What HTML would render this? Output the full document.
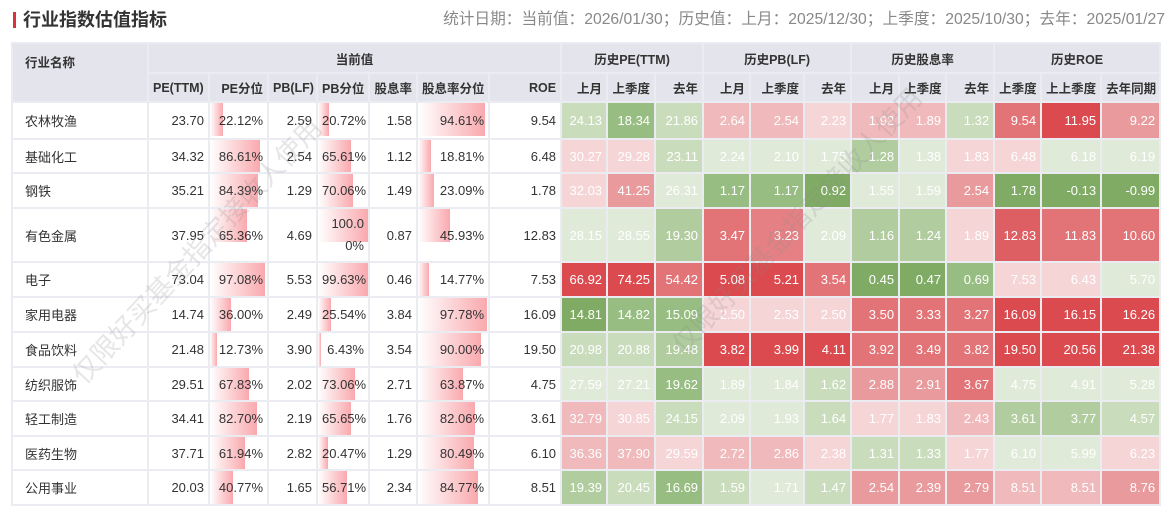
<!DOCTYPE html>
<html><head><meta charset="utf-8"><style>
body{margin:0;width:1169px;height:508px;background:#fff;overflow:hidden;position:relative;font-family:"Liberation Sans","Noto Sans CJK SC",sans-serif;}
.title{position:absolute;left:13px;top:8px;height:24px;font-size:18px;font-weight:bold;color:#333;line-height:24px;}
.title:before{content:"";display:inline-block;width:3px;height:16px;background:#d9333a;vertical-align:-2px;margin-right:7px;}
.date{position:absolute;right:4px;top:10px;font-size:15.7px;color:#888;line-height:20px;white-space:nowrap;}
table{position:absolute;left:11px;top:42px;width:1150px;border-collapse:separate;border-spacing:2px;background:#ebebf2;table-layout:fixed;font-size:13px;}
td{padding:0 4px;text-align:right;color:#333;background:#fff;white-space:nowrap;overflow:hidden;position:relative;}
th{background:#e4e4ec;color:#333;font-size:12.5px;font-weight:bold;padding:0 4px;text-align:right;white-space:nowrap;overflow:hidden;}
th.c{text-align:center}
td.n{text-align:left;padding-left:12px}
th.n{text-align:left;padding-left:12px;vertical-align:top;padding-top:8px}
td.h{color:#fff;}
.b{position:absolute;left:0;top:0;height:33px;background:linear-gradient(to right,rgba(255,255,255,0),#f9a9ae);}
td span{position:relative}
.G1{background:#e0ead9}.G2{background:#c9dcbc}.G3{background:#b1cd9f}.G4{background:#98bd82}.G5{background:#80ab64}
.R1{background:#f6d5d7}.R2{background:#f0b9bb}.R3{background:#e99a9d}.R4{background:#e27376}.R5{background:#da4a4f}
.wm{position:absolute;font-size:27px;color:rgba(140,140,140,0.22);transform:rotate(-47deg);white-space:nowrap;transform-origin:center;}
</style></head><body>
<div class="title">行业指数估值指标</div>
<div class="date">统计日期：当前值：2026/01/30；历史值：上月：2025/12/30；上季度：2025/10/30；去年：2025/01/27</div>
<table>
<colgroup><col style="width:134px"><col style="width:59px"><col style="width:57px"><col style="width:47px"><col style="width:50px"><col style="width:46px"><col style="width:70px"><col style="width:70px"><col style="width:44px"><col style="width:46px"><col style="width:46px"><col style="width:45px"><col style="width:52px"><col style="width:45px"><col style="width:46px"><col style="width:45px"><col style="width:46px"><col style="width:45px"><col style="width:58px"><col style="width:57px"></colgroup>
<tr style="height:28px"><th class="n" rowspan="2">行业名称</th><th class="c" colspan="7">当前值</th><th class="c" colspan="3">历史PE(TTM)</th><th class="c" colspan="3">历史PB(LF)</th><th class="c" colspan="3">历史股息率</th><th class="c" colspan="3">历史ROE</th></tr>
<tr style="height:27px"><th style="text-align:left">PE(TTM)</th><th>PE分位</th><th style="text-align:left">PB(LF)</th><th>PB分位</th><th>股息率</th><th>股息率分位</th><th>ROE</th><th>上月</th><th>上季度</th><th>去年</th><th>上月</th><th>上季度</th><th>去年</th><th>上月</th><th>上季度</th><th>去年</th><th>上季度</th><th>上上季度</th><th>去年同期</th></tr>

<tr style="height:35px"><td class="n">农林牧渔</td><td>23.70</td><td><div class="b" style="width:22%"></div><span>22.12%</span></td><td>2.59</td><td><div class="b" style="width:21%"></div><span>20.72%</span></td><td>1.58</td><td><div class="b" style="width:95%"></div><span>94.61%</span></td><td>9.54</td>
<td class="h G2">24.13</td><td class="h G4">18.34</td><td class="h G2">21.86</td><td class="h R2">2.64</td><td class="h R2">2.54</td><td class="h R1">2.23</td><td class="h R2">1.92</td><td class="h R2">1.89</td><td class="h G2">1.32</td><td class="h R4">9.54</td><td class="h R5">11.95</td><td class="h R3">9.22</td></tr>

<tr style="height:32px"><td class="n">基础化工</td><td>34.32</td><td><div class="b" style="width:87%"></div><span>86.61%</span></td><td>2.54</td><td><div class="b" style="width:66%"></div><span>65.61%</span></td><td>1.12</td><td><div class="b" style="width:19%"></div><span>18.81%</span></td><td>6.48</td>
<td class="h R1">30.27</td><td class="h R1">29.28</td><td class="h G2">23.11</td><td class="h G1">2.24</td><td class="h G1">2.10</td><td class="h G1">1.75</td><td class="h G3">1.28</td><td class="h G1">1.38</td><td class="h R1">1.83</td><td class="h R1">6.48</td><td class="h G1">6.18</td><td class="h G1">6.19</td></tr>

<tr style="height:33px"><td class="n">钢铁</td><td>35.21</td><td><div class="b" style="width:84%"></div><span>84.39%</span></td><td>1.29</td><td><div class="b" style="width:70%"></div><span>70.06%</span></td><td>1.49</td><td><div class="b" style="width:23%"></div><span>23.09%</span></td><td>1.78</td>
<td class="h R1">32.03</td><td class="h R3">41.25</td><td class="h G1">26.31</td><td class="h G4">1.17</td><td class="h G4">1.17</td><td class="h G5">0.92</td><td class="h G1">1.55</td><td class="h G1">1.59</td><td class="h R3">2.54</td><td class="h G5">1.78</td><td class="h G5">-0.13</td><td class="h G5">-0.99</td></tr>

<tr style="height:52px"><td class="n">有色金属</td><td>37.95</td><td><div class="b" style="width:65%"></div><span>65.36%</span></td><td>4.69</td><td style="line-height:22px"><div class="b" style="width:100%"></div><span>100.0<br>0%</span></td><td>0.87</td><td><div class="b" style="width:46%"></div><span>45.93%</span></td><td>12.83</td>
<td class="h G1">28.15</td><td class="h G1">28.55</td><td class="h G3">19.30</td><td class="h R4">3.47</td><td class="h R3" style="background:#e58184">3.23</td><td class="h G1">2.09</td><td class="h G3">1.16</td><td class="h G3">1.24</td><td class="h R1">1.89</td><td class="h R4" style="background:#de5f63">12.83</td><td class="h R4">11.83</td><td class="h R4">10.60</td></tr>

<tr style="height:33px"><td class="n">电子</td><td>73.04</td><td><div class="b" style="width:97%"></div><span>97.08%</span></td><td>5.53</td><td><div class="b" style="width:100%"></div><span>99.63%</span></td><td>0.46</td><td><div class="b" style="width:15%"></div><span>14.77%</span></td><td>7.53</td>
<td class="h R5">66.92</td><td class="h R5">74.25</td><td class="h R4">54.42</td><td class="h R5">5.08</td><td class="h R5">5.21</td><td class="h R4">3.54</td><td class="h G5">0.45</td><td class="h G5">0.47</td><td class="h G4">0.69</td><td class="h R1">7.53</td><td class="h R1">6.43</td><td class="h G1">5.70</td></tr>

<tr style="height:33px"><td class="n">家用电器</td><td>14.74</td><td><div class="b" style="width:36%"></div><span>36.00%</span></td><td>2.49</td><td><div class="b" style="width:26%"></div><span>25.54%</span></td><td>3.84</td><td><div class="b" style="width:98%"></div><span>97.78%</span></td><td>16.09</td>
<td class="h G5">14.81</td><td class="h G4">14.82</td><td class="h G4">15.09</td><td class="h R1">2.50</td><td class="h R1">2.53</td><td class="h R1">2.50</td><td class="h R4">3.50</td><td class="h R4">3.33</td><td class="h R4">3.27</td><td class="h R5">16.09</td><td class="h R5">16.15</td><td class="h R5">16.26</td></tr>

<tr style="height:33px"><td class="n">食品饮料</td><td>21.48</td><td><div class="b" style="width:13%"></div><span>12.73%</span></td><td>3.90</td><td><div class="b" style="width:6%"></div><span>6.43%</span></td><td>3.54</td><td><div class="b" style="width:90%"></div><span>90.00%</span></td><td>19.50</td>
<td class="h G2">20.98</td><td class="h G2">20.88</td><td class="h G3">19.48</td><td class="h R5">3.82</td><td class="h R5">3.99</td><td class="h R5">4.11</td><td class="h R4">3.92</td><td class="h R4">3.49</td><td class="h R4">3.82</td><td class="h R5">19.50</td><td class="h R5">20.56</td><td class="h R5">21.38</td></tr>

<tr style="height:32px"><td class="n">纺织服饰</td><td>29.51</td><td><div class="b" style="width:68%"></div><span>67.83%</span></td><td>2.02</td><td><div class="b" style="width:73%"></div><span>73.06%</span></td><td>2.71</td><td><div class="b" style="width:64%"></div><span>63.87%</span></td><td>4.75</td>
<td class="h G1">27.59</td><td class="h G1">27.21</td><td class="h G4">19.62</td><td class="h G1">1.89</td><td class="h G1">1.84</td><td class="h G2">1.62</td><td class="h R3">2.88</td><td class="h R3">2.91</td><td class="h R4">3.67</td><td class="h G1">4.75</td><td class="h G1">4.91</td><td class="h G1">5.28</td></tr>

<tr style="height:33px"><td class="n">轻工制造</td><td>34.41</td><td><div class="b" style="width:83%"></div><span>82.70%</span></td><td>2.19</td><td><div class="b" style="width:66%"></div><span>65.65%</span></td><td>1.76</td><td><div class="b" style="width:82%"></div><span>82.06%</span></td><td>3.61</td>
<td class="h R2">32.79</td><td class="h R1">30.85</td><td class="h G2">24.15</td><td class="h G1">2.09</td><td class="h G1">1.93</td><td class="h G2">1.64</td><td class="h R1">1.77</td><td class="h R1">1.83</td><td class="h R2">2.43</td><td class="h G3">3.61</td><td class="h G3">3.77</td><td class="h G2">4.57</td></tr>

<tr style="height:32px"><td class="n">医药生物</td><td>37.71</td><td><div class="b" style="width:62%"></div><span>61.94%</span></td><td>2.82</td><td><div class="b" style="width:20%"></div><span>20.47%</span></td><td>1.29</td><td><div class="b" style="width:80%"></div><span>80.49%</span></td><td>6.10</td>
<td class="h R2">36.36</td><td class="h R2">37.90</td><td class="h R1">29.59</td><td class="h R2">2.72</td><td class="h R2">2.86</td><td class="h R1">2.38</td><td class="h G2">1.31</td><td class="h G2">1.33</td><td class="h R1">1.77</td><td class="h G1">6.10</td><td class="h G1">5.99</td><td class="h R1">6.23</td></tr>

<tr style="height:33px"><td class="n">公用事业</td><td>20.03</td><td><div class="b" style="width:41%"></div><span>40.77%</span></td><td>1.65</td><td><div class="b" style="width:57%"></div><span>56.71%</span></td><td>2.34</td><td><div class="b" style="width:85%"></div><span>84.77%</span></td><td>8.51</td>
<td class="h G3">19.39</td><td class="h G2">20.45</td><td class="h G4">16.69</td><td class="h G2">1.59</td><td class="h G1">1.71</td><td class="h G2">1.47</td><td class="h R3">2.54</td><td class="h R3">2.39</td><td class="h R3">2.79</td><td class="h R2">8.51</td><td class="h R2">8.51</td><td class="h R3">8.76</td></tr>
</table>
<div class="wm" style="left:20px;top:230px;">仅限好买基金指定接收人使用</div>
<div class="wm" style="left:620px;top:200px;">仅限好买基金指定接收人使用</div>
</body></html>
